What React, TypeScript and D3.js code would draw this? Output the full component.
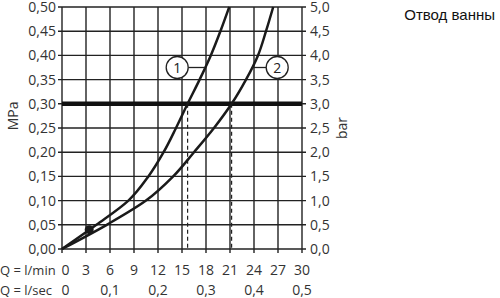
import React from "react";
import * as d3 from "d3";

const W = 500;
const H = 298;

const title = "Отвод ванны";
const yLeftLabel = "MPa";
const yRightLabel = "bar";
const qMinLabel = "Q = l/min";
const qSecLabel = "Q = l/sec";

const mpaTicks = [0, 0.05, 0.1, 0.15, 0.2, 0.25, 0.3, 0.35, 0.4, 0.45, 0.5];
const mpaTickLabels = ["0,00", "0,05", "0,10", "0,15", "0,20", "0,25", "0,30", "0,35", "0,40", "0,45", "0,50"];
const barTickLabels = ["0,0", "0,5", "1,0", "1,5", "2,0", "2,5", "3,0", "3,5", "4,0", "4,5", "5,0"];
const qMinTicks = [0, 3, 6, 9, 12, 15, 18, 21, 24, 27, 30];
const qSecTicks = [0, 6, 12, 18, 24, 30];
const qSecLabels = ["0", "0,1", "0,2", "0,3", "0,4", "0,5"];

// curve 1 (Q l/min, P MPa)
const curve1Q = [0, 4.3, 8.3, 10.8, 12.7, 14.25, 15.7, 17.2, 18.6, 19.8, 20.9];
const curve1P = [0, 0.05, 0.1, 0.15, 0.2, 0.25, 0.3, 0.35, 0.4, 0.45, 0.5];
// curve 2
const curve2Q = [0, 5.6, 10.5, 13.9, 16.5, 19.0, 21.2, 23.0, 24.5, 25.5, 26.4];
const curve2P = [0, 0.05, 0.1, 0.15, 0.2, 0.25, 0.3, 0.35, 0.4, 0.45, 0.5];

const refPressure = 0.3;
const crossQ = [15.7, 21.2];
const dotQ = 3.4;
const dotP = 0.04;
const labelP = 0.375;
const labelNames = ["1", "2"];
const labelQ = [14.4, 26.9];

const FONT = "'Open Sans', sans-serif";

export default function App() {
  const x = d3.scaleLinear().domain([0, 30]).range([62, 302]);
  const y = d3.scaleLinear().domain([0, 0.5]).range([249, 7]);
  const line = d3
    .line<[number, number]>()
    .x((d) => x(d[0]))
    .y((d) => y(d[1]))
    .curve(d3.curveMonotoneY);
  const c1 = curve1Q.map((q, i) => [q, curve1P[i]] as [number, number]);
  const c2 = curve2Q.map((q, i) => [q, curve2P[i]] as [number, number]);

  const interpQ = (qs: number[], ps: number[], p: number) => {
    for (let i = 1; i < ps.length; i++) {
      if (p <= ps[i]) {
        const t = (p - ps[i - 1]) / (ps[i] - ps[i - 1]);
        return qs[i - 1] + t * (qs[i] - qs[i - 1]);
      }
    }
    return qs[qs.length - 1];
  };
  const curveAtLabel = [interpQ(curve1Q, curve1P, labelP), interpQ(curve2Q, curve2P, labelP)];

  const textCol = "#333";
  const gridCol = "#222";
  const r = 11;

  return (
    <svg width={W} height={H} style={{ position: "absolute", left: 0, top: 0, background: "#fff" }}>
      {/* grid */}
      {qMinTicks.map((q) => (
        <line key={"vx" + q} x1={x(q)} x2={x(q)} y1={y(0.5)} y2={y(0) + 4} stroke={gridCol} strokeWidth={1.4} />
      ))}
      {mpaTicks.map((p) => (
        <line key={"hy" + p} x1={x(0) - 4} x2={x(30) + 4} y1={y(p)} y2={y(p)} stroke={gridCol} strokeWidth={1.4} />
      ))}
      {/* dashed verticals */}
      {crossQ.map((q) => (
        <line key={"d" + q} x1={x(q)} x2={x(q)} y1={y(refPressure)} y2={y(0)} stroke={gridCol} strokeWidth={1.2} strokeDasharray="4,3" />
      ))}
      {/* reference thick line */}
      <line x1={x(0)} x2={x(30)} y1={y(refPressure)} y2={y(refPressure)} stroke="#111" strokeWidth={4.5} />
      {/* curves */}
      <path d={line(c1) || ""} fill="none" stroke="#1a1a1a" strokeWidth={2.5} />
      <path d={line(c2) || ""} fill="none" stroke="#1a1a1a" strokeWidth={2.5} />
      <circle cx={x(dotQ)} cy={y(dotP)} r={4.5} fill="#1a1a1a" />
      {/* curve labels */}
      {labelNames.map((n, i) => {
        const cx = x(labelQ[i]);
        const cy = y(labelP);
        const cxCurve = x(curveAtLabel[i]);
        const lx = i === 0 ? cx + r : cx - r;
        return (
          <g key={"lab" + n}>
            <line x1={lx} x2={cxCurve} y1={cy} y2={cy} stroke="#222" strokeWidth={1.3} />
            <circle cx={cx} cy={cy} r={r} fill="#fff" stroke="#222" strokeWidth={1.3} />
            <text x={cx} y={cy + 5} textAnchor="middle" fontFamily={FONT} fontSize={14} fill="#222">{n}</text>
          </g>
        );
      })}
      {/* left labels */}
      {mpaTicks.map((p, i) => (
        <text key={"lt" + p} x={56} y={y(p) + 5} textAnchor="end" fontFamily={FONT} fontSize={14} fill={textCol}>
          {mpaTickLabels[i]}
        </text>
      ))}
      {mpaTicks.map((p, i) => (
        <text key={"rt" + p} x={310} y={y(p) + 5} textAnchor="start" fontFamily={FONT} fontSize={14} fill={textCol}>
          {barTickLabels[i]}
        </text>
      ))}
      <text transform={`translate(18,${y(0.275)}) rotate(-90)`} textAnchor="middle" fontFamily={FONT} fontSize={14} fill={textCol}>
        {yLeftLabel}
      </text>
      <text transform={`translate(347,${y(0.25)}) rotate(-90)`} textAnchor="middle" fontFamily={FONT} fontSize={14} fill={textCol}>
        {yRightLabel}
      </text>
      {/* bottom labels */}
      <text x={0} y={275} fontFamily={FONT} fontSize={13} fill={textCol}>{qMinLabel}</text>
      {qMinTicks.map((q) => (
        <text key={"bq" + q} x={x(q) + (q === 0 ? 3.5 : 0)} y={275} textAnchor="middle" fontFamily={FONT} fontSize={14} fill={textCol}>
          {String(q)}
        </text>
      ))}
      <text x={0} y={295} fontFamily={FONT} fontSize={13} fill={textCol}>{qSecLabel}</text>
      {qSecTicks.map((q, i) => (
        <text key={"bs" + q} x={x(q) + (q === 0 ? 3.5 : 0)} y={295} textAnchor="middle" fontFamily={FONT} fontSize={14} fill={textCol}>
          {qSecLabels[i]}
        </text>
      ))}
      <text x={495} y={20} textAnchor="end" fontFamily="'Liberation Sans', Arial, sans-serif" fontSize={15} fill="#111">
        {title}
      </text>
    </svg>
  );
}
